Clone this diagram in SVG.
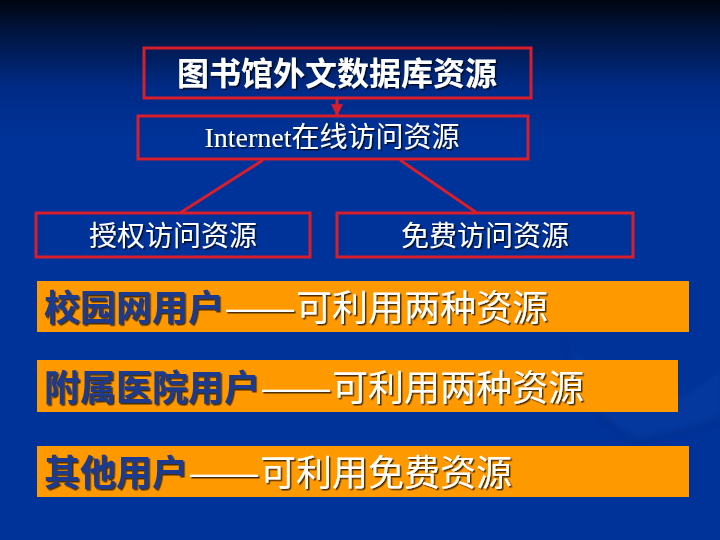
<svg xmlns="http://www.w3.org/2000/svg" width="720" height="540" viewBox="0 0 720 540">
  <defs>
    <linearGradient id="bg" x1="0" y1="0" x2="0" y2="1" gradientUnits="objectBoundingBox">
      <stop offset="0" stop-color="#000510"/>
      <stop offset="0.06" stop-color="#001540"/>
      <stop offset="0.16" stop-color="#002a85"/>
      <stop offset="0.26" stop-color="#003399"/>
      <stop offset="1" stop-color="#003399"/>
    </linearGradient>
    <filter id="sh" x="-5%" y="-20%" width="110%" height="140%">
      <feDropShadow dx="1.5" dy="1.5" stdDeviation="0.4" flood-color="#000000" flood-opacity="0.7"/>
    </filter>
    <filter id="blur"><feGaussianBlur stdDeviation="3"/></filter>
    <marker id="arr" viewBox="0 0 10 10" refX="9" refY="5" markerWidth="4" markerHeight="4" orient="auto" markerUnits="strokeWidth">
      <path d="M0,0 L10,5 L0,10 z" fill="#d81e2c"/>
    </marker>
    <style>
      .box { fill: none; stroke: #d81e2c; stroke-width: 3; }
      .conn { stroke: #d81e2c; stroke-width: 3; fill: none; }
      .bar { fill: #ff9900; }
      .wt { fill: #ffffff; font-family: "Noto Sans CJK SC", "Liberation Serif", sans-serif; filter: url(#sh); }
      .lat { font-family: "Liberation Serif", "Noto Sans CJK SC", serif; }
      .dk { fill: #1a3a8f; font-weight: bold; }
      .big { font-size: 36px; font-family: "Noto Sans CJK SC", sans-serif; filter: url(#sh); }
      .wh { fill: #ffffff; }
    </style>
  </defs>

  <rect x="0" y="0" width="720" height="540" fill="url(#bg)"/>
  <path d="M565,333 Q580,420 640,440 Q690,432 720,418 L720,370 Q690,400 650,405 Q600,400 565,333 Z" fill="#0b3fa6" opacity="0.45" filter="url(#blur)"/>
  <path d="M565,333 Q580,420 640,440 Q690,432 720,418" fill="none" stroke="#00287a" stroke-width="4" opacity="0.45" filter="url(#blur)"/>

  <g id="connectors">
    <line class="conn" x1="337" y1="99" x2="337" y2="115" marker-end="url(#arr)"/>
    <line class="conn" x1="263" y1="160" x2="180" y2="213"/>
    <line class="conn" x1="400" y1="160" x2="477" y2="213"/>
  </g>

  <g id="n1">
    <rect class="box" x="144" y="48" width="387" height="50"/>
    <text class="wt" x="337" y="85" font-size="32" font-weight="bold" text-anchor="middle">图书馆外文数据库资源</text>
  </g>

  <g id="n2">
    <rect class="box" x="138" y="116" width="390" height="43"/>
    <text class="wt" x="332" y="147" font-size="28" text-anchor="middle"><tspan class="lat">Internet</tspan>在线访问资源</text>
  </g>

  <g id="n3">
    <rect class="box" x="36" y="213" width="274" height="44"/>
    <text class="wt" x="173" y="246" font-size="28" text-anchor="middle">授权访问资源</text>
  </g>

  <g id="n4">
    <rect class="box" x="337" y="213" width="296" height="44"/>
    <text class="wt" x="485" y="246" font-size="28" text-anchor="middle">免费访问资源</text>
  </g>

  <g id="bar1">
    <rect class="bar" x="37" y="281" width="652" height="51"/>
    <text class="big" y="321"><tspan class="dk" x="44">校园网用户</tspan><tspan class="wh" x="224" textLength="72" lengthAdjust="spacingAndGlyphs">——</tspan><tspan class="wh" x="296">可利用两种资源</tspan></text>
  </g>

  <g id="bar2">
    <rect class="bar" x="37" y="360" width="641" height="52"/>
    <text class="big" y="401"><tspan class="dk" x="44">附属医院用户</tspan><tspan class="wh" x="260" textLength="72" lengthAdjust="spacingAndGlyphs">——</tspan><tspan class="wh" x="332">可利用两种资源</tspan></text>
  </g>

  <g id="bar3">
    <rect class="bar" x="37" y="446" width="652" height="51"/>
    <text class="big" y="486"><tspan class="dk" x="44">其他用户</tspan><tspan class="wh" x="188" textLength="72" lengthAdjust="spacingAndGlyphs">——</tspan><tspan class="wh" x="260">可利用免费资源</tspan></text>
  </g>
</svg>
